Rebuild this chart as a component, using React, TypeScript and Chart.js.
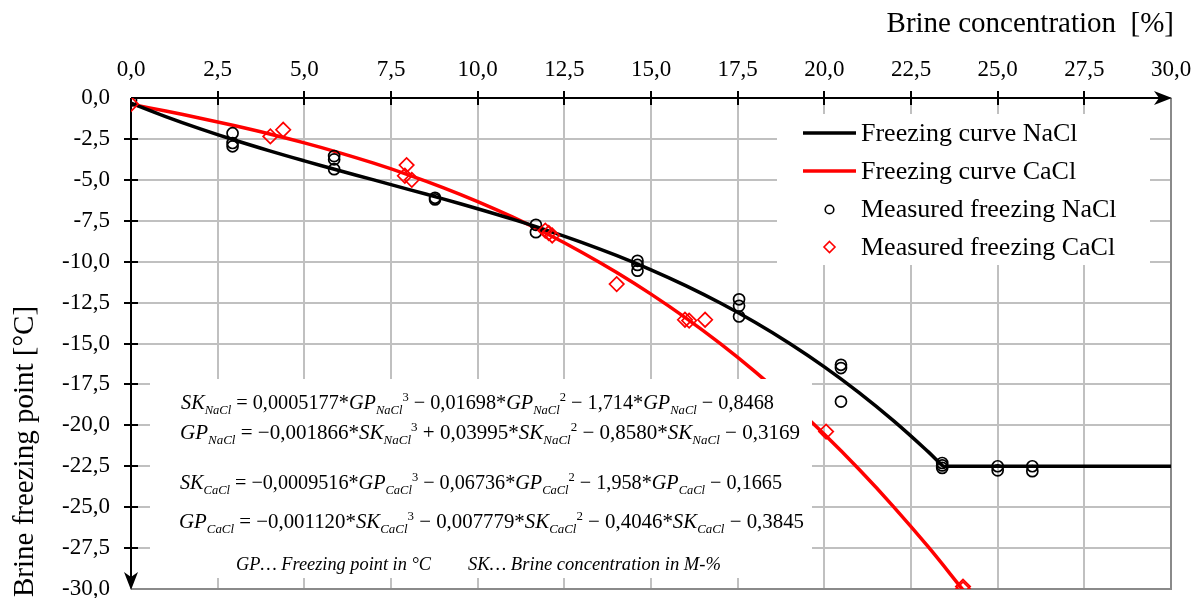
import { useEffect, useRef } from 'react';
import { Chart, registerables } from 'chart.js';

Chart.register(...registerables);

// ---------- data ----------
const naclCurveX = [0, 1, 2, 3, 4, 5, 6, 7, 8, 9, 10, 11, 12, 13, 14, 15, 16, 17, 18, 19, 20, 21, 22, 23, 23.43, 23.5, 30];
const naclCurveY = [-0.317, -1.137, -1.888, -2.582, -3.229, -3.841, -4.43, -5.005, -5.58, -6.163, -6.768, -7.405, -8.085, -8.819, -9.619, -10.496, -11.461, -12.525, -13.7, -14.996, -16.425, -17.998, -19.726, -21.621, -22.5, -22.5, -22.5];

const caclCurveX = [0, 1, 2, 3, 4, 5, 6, 7, 8, 9, 10, 11, 12, 13, 14, 15, 16, 17, 18, 19, 20, 21, 22, 23, 24];
const caclCurveY = [-0.385, -0.798, -1.234, -1.699, -2.199, -2.742, -3.334, -3.982, -4.693, -5.472, -6.328, -7.267, -8.295, -9.419, -10.647, -11.984, -13.437, -15.013, -16.719, -18.562, -20.548, -22.684, -24.977, -27.433, -30.058];

const naclMeasuredX = [0, 2.93, 2.93, 2.93, 5.86, 5.86, 5.86, 8.77, 8.77, 11.68, 11.68, 14.61, 14.61, 14.61, 17.54, 17.54, 17.54, 20.48, 20.48, 20.48, 23.4, 23.4, 23.4, 25.0, 25.0, 26.0, 26.0];
const naclMeasuredY = [-0.15, -2.15, -2.75, -2.95, -3.55, -3.75, -4.35, -6.1, -6.2, -7.75, -8.2, -9.95, -10.2, -10.55, -12.3, -12.7, -13.35, -16.3, -16.5, -18.55, -22.3, -22.45, -22.6, -22.5, -22.75, -22.5, -22.8];

const caclMeasuredX = [0, 4.02, 4.39, 7.95, 7.9, 8.1, 11.95, 12.05, 12.15, 14.01, 15.98, 16.1, 16.56, 20.05, 24.0, 24.0];
const caclMeasuredY = [-0.37, -2.35, -1.94, -4.1, -4.75, -5.0, -8.1, -8.25, -8.4, -11.37, -13.55, -13.6, -13.55, -20.38, -29.85, -30.0];

const seriesLabels = ['Freezing curve NaCl', 'Freezing curve CaCl', 'Measured freezing NaCl', 'Measured freezing CaCl'];
const seriesColors = ['#000000', '#ff0000', '#000000', '#ff0000'];

const xMin = 0;
const xMax = 30;
const xStep = 2.5;
const yMin = -30;
const yMax = 0;
const yStep = 2.5;

const xTitle = 'Brine concentration  [%]';
const yTitle = 'Brine freezing point [°C]';

const equationLines = [
  'SK_{NaCl} = 0,0005177*GP_{NaCl}^{3} − 0,01698*GP_{NaCl}^{2} − 1,714*GP_{NaCl} − 0,8468',
  'GP_{NaCl} = −0,001866*SK_{NaCl}^{3} + 0,03995*SK_{NaCl}^{2} − 0,8580*SK_{NaCl} − 0,3169',
  'SK_{CaCl} = −0,0009516*GP_{CaCl}^{3} − 0,06736*GP_{CaCl}^{2} − 1,958*GP_{CaCl} − 0,1665',
  'GP_{CaCl} = −0,001120*SK_{CaCl}^{3} − 0,007779*SK_{CaCl}^{2} − 0,4046*SK_{CaCl} − 0,3845',
];
const noteLeft = 'GP… Freezing point in °C';
const noteRight = 'SK… Brine concentration in M-%';

// ---------- layout constants ----------
const FAM = '"Liberation Serif", "Times New Roman", serif';
const W = 1201;
const H = 598;
const eqPlacement = [
  { x0: 181, x1: 774, base: 409 },
  { x0: 180, x1: 800, base: 439 },
  { x0: 180, x1: 782, base: 489 },
  { x0: 179, x1: 804, base: 528 },
];

const toPts = (xs: number[], ys: number[]) => xs.map((x, i) => ({ x, y: ys[i] }));
const fmt = (v: number) => v.toFixed(1).replace('.', ',');

function drawRich(ctx: CanvasRenderingContext2D, str: string, x0: number, x1: number, base: number) {
  const size = 21;
  const small = 13;
  const re = /_\{([^}]*)\}|\^\{([^}]*)\}|([A-Za-z]+)|([^A-Za-z_^]+)/g;
  const toks: { t: string; f: string; dy: number }[] = [];
  let m: RegExpExecArray | null;
  while ((m = re.exec(str))) {
    if (m[1] !== undefined) toks.push({ t: m[1], f: `italic ${small}px ${FAM}`, dy: 5 });
    else if (m[2] !== undefined) toks.push({ t: m[2], f: `${small}px ${FAM}`, dy: -8 });
    else if (m[3] !== undefined) toks.push({ t: m[3], f: `italic ${size}px ${FAM}`, dy: 0 });
    else toks.push({ t: m[4], f: `${size}px ${FAM}`, dy: 0 });
  }
  let total = 0;
  const widths = toks.map((tk) => {
    ctx.font = tk.f;
    const w = ctx.measureText(tk.t).width;
    total += w;
    return w;
  });
  const s = (x1 - x0) / total;
  ctx.save();
  ctx.translate(x0, base);
  ctx.scale(s, 1);
  ctx.textAlign = 'left';
  ctx.textBaseline = 'alphabetic';
  let cx = 0;
  toks.forEach((tk, i) => {
    ctx.font = tk.f;
    ctx.fillText(tk.t, cx, tk.dy);
    cx += widths[i];
  });
  ctx.restore();
}

function drawFitted(ctx: CanvasRenderingContext2D, str: string, font: string, x0: number, x1: number, base: number) {
  ctx.save();
  ctx.font = font;
  const w = ctx.measureText(str).width;
  ctx.translate(x0, base);
  ctx.scale((x1 - x0) / w, 1);
  ctx.textAlign = 'left';
  ctx.textBaseline = 'alphabetic';
  ctx.fillText(str, 0, 0);
  ctx.restore();
}

const decorPlugin = {
  id: 'decor',
  beforeDatasetsDraw(chart: any) {
    const { ctx, chartArea } = chart;
    const { left, top, right, bottom } = chartArea;
    const xs = chart.scales.x;
    const ys = chart.scales.y;
    ctx.save();
    // right and bottom frame
    ctx.strokeStyle = '#8a8a8a';
    ctx.lineWidth = 2;
    ctx.beginPath();
    ctx.moveTo(right, top);
    ctx.lineTo(right, bottom);
    ctx.lineTo(left, bottom);
    ctx.stroke();
    // axes
    ctx.strokeStyle = '#000';
    ctx.fillStyle = '#000';
    ctx.lineWidth = 2;
    ctx.beginPath();
    ctx.moveTo(left, top);
    ctx.lineTo(right - 8, top);
    ctx.moveTo(left, top);
    ctx.lineTo(left, bottom - 8);
    for (let v = xMin + xStep; v < xMax - 0.01; v += xStep) {
      const px = Math.round(xs.getPixelForValue(v));
      ctx.moveTo(px, top - 7);
      ctx.lineTo(px, top + 7);
    }
    for (let v = yMax - yStep; v > yMin + 0.01; v -= yStep) {
      const py = Math.round(ys.getPixelForValue(v));
      ctx.moveTo(left - 7, py);
      ctx.lineTo(left + 7, py);
    }
    ctx.stroke();
    // arrow heads
    ctx.beginPath();
    ctx.moveTo(right + 1, top);
    ctx.lineTo(right - 17, top - 7);
    ctx.lineTo(right - 12, top);
    ctx.lineTo(right - 17, top + 7);
    ctx.closePath();
    ctx.fill();
    ctx.beginPath();
    ctx.moveTo(left, bottom + 1);
    ctx.lineTo(left - 7, bottom - 17);
    ctx.lineTo(left, bottom - 12);
    ctx.lineTo(left + 7, bottom - 17);
    ctx.closePath();
    ctx.fill();
    ctx.restore();
  },
  afterDatasetsDraw(chart: any) {
    const { ctx } = chart;
    ctx.save();
    // legend box
    ctx.fillStyle = '#fff';
    ctx.fillRect(777, 114, 373, 151);
    // equation box
    ctx.fillRect(150, 379, 662, 199);

    // legend content
    const rowY = [133, 171, 209.5, 247];
    ctx.font = `26px ${FAM}`;
    ctx.textAlign = 'left';
    ctx.textBaseline = 'middle';
    rowY.forEach((ry, i) => {
      ctx.strokeStyle = seriesColors[i];
      if (i < 2) {
        ctx.lineWidth = 3.5;
        ctx.beginPath();
        ctx.moveTo(803, ry);
        ctx.lineTo(856, ry);
        ctx.stroke();
      } else if (i === 2) {
        ctx.lineWidth = 1.6;
        ctx.beginPath();
        ctx.arc(829.5, ry, 4.3, 0, Math.PI * 2);
        ctx.stroke();
      } else {
        ctx.lineWidth = 1.6;
        ctx.beginPath();
        ctx.moveTo(829.5, ry - 5.5);
        ctx.lineTo(835, ry);
        ctx.lineTo(829.5, ry + 5.5);
        ctx.lineTo(824, ry);
        ctx.closePath();
        ctx.stroke();
      }
      ctx.fillStyle = '#000';
      ctx.fillText(seriesLabels[i], 861, ry + 1);
    });

    // equations
    ctx.fillStyle = '#000';
    equationLines.forEach((line, i) => {
      const p = eqPlacement[i];
      drawRich(ctx, line, p.x0, p.x1, p.base);
    });
    drawFitted(ctx, noteLeft, `italic 19px ${FAM}`, 236, 431, 570);
    drawFitted(ctx, noteRight, `italic 19px ${FAM}`, 468, 721, 570);

    // axis titles
    ctx.font = `29px ${FAM}`;
    ctx.textAlign = 'right';
    ctx.textBaseline = 'alphabetic';
    ctx.fillText(xTitle, 1174, 32);
    ctx.save();
    ctx.translate(33, 597);
    ctx.rotate(-Math.PI / 2);
    ctx.textAlign = 'left';
    ctx.fillText(yTitle, 0, 0);
    ctx.restore();
    ctx.restore();
  },
};

export default function App() {
  const ref = useRef<HTMLCanvasElement | null>(null);

  useEffect(() => {
    if (!ref.current) return;
    Chart.defaults.font.family = FAM;
    Chart.defaults.color = '#000';
    const chart = new Chart(ref.current, {
      type: 'scatter',
      data: {
        datasets: [
          {
            label: seriesLabels[0],
            data: toPts(naclCurveX, naclCurveY),
            showLine: true,
            borderColor: seriesColors[0],
            backgroundColor: seriesColors[0],
            borderWidth: 3.5,
            pointRadius: 0,
            tension: 0.4,
            order: 2,
          },
          {
            label: seriesLabels[1],
            data: toPts(caclCurveX, caclCurveY),
            showLine: true,
            borderColor: seriesColors[1],
            backgroundColor: seriesColors[1],
            borderWidth: 3.5,
            pointRadius: 0,
            tension: 0.4,
            order: 2,
          },
          {
            label: seriesLabels[2],
            data: toPts(naclMeasuredX, naclMeasuredY),
            showLine: false,
            pointStyle: 'circle',
            pointRadius: 5.5,
            pointBorderWidth: 1.7,
            borderColor: seriesColors[2],
            backgroundColor: 'rgba(0,0,0,0)',
            order: 1,
          },
          {
            label: seriesLabels[3],
            data: toPts(caclMeasuredX, caclMeasuredY),
            showLine: false,
            pointStyle: 'rectRot',
            pointRadius: 7.2,
            pointBorderWidth: 1.7,
            borderColor: seriesColors[3],
            backgroundColor: 'rgba(0,0,0,0)',
            order: 0,
          },
        ],
      },
      options: {
        responsive: false,
        animation: false,
        devicePixelRatio: 1,
        layout: { padding: { left: 0, top: 0, right: 30, bottom: 9 } },
        plugins: {
          legend: { display: false },
          tooltip: { enabled: false },
          title: { display: false },
        },
        events: [],
        scales: {
          x: {
            type: 'linear',
            position: 'top',
            min: xMin,
            max: xMax,
            grid: { color: '#c0c0c0', lineWidth: 2, drawTicks: false },
            border: { display: false },
            ticks: {
              stepSize: xStep,
              padding: 14,
              maxRotation: 0,
              autoSkip: false,
              color: '#000',
              font: { family: FAM, size: 23 },
              callback: (v: any) => fmt(Number(v)),
            },
            afterFit: (s: any) => {
              s.height = 98;
              s.paddingLeft = 0;
              s.paddingRight = 0;
            },
          },
          y: {
            type: 'linear',
            position: 'left',
            min: yMin,
            max: yMax,
            grid: { color: '#c0c0c0', lineWidth: 2, drawTicks: false },
            border: { display: false },
            ticks: {
              stepSize: yStep,
              padding: 21,
              autoSkip: false,
              color: '#000',
              font: { family: FAM, size: 23 },
              callback: (v: any) => fmt(Number(v)),
            },
            afterFit: (s: any) => {
              s.width = 131;
              s.paddingTop = 0;
              s.paddingBottom = 0;
            },
          },
        },
      },
      plugins: [decorPlugin],
    } as any);
    return () => chart.destroy();
  }, []);

  return (
    <div style={{ position: 'absolute', left: 0, top: 0, width: W, height: H, background: '#fff' }}>
      <canvas ref={ref} width={W} height={H} style={{ display: 'block' }} />
    </div>
  );
}
